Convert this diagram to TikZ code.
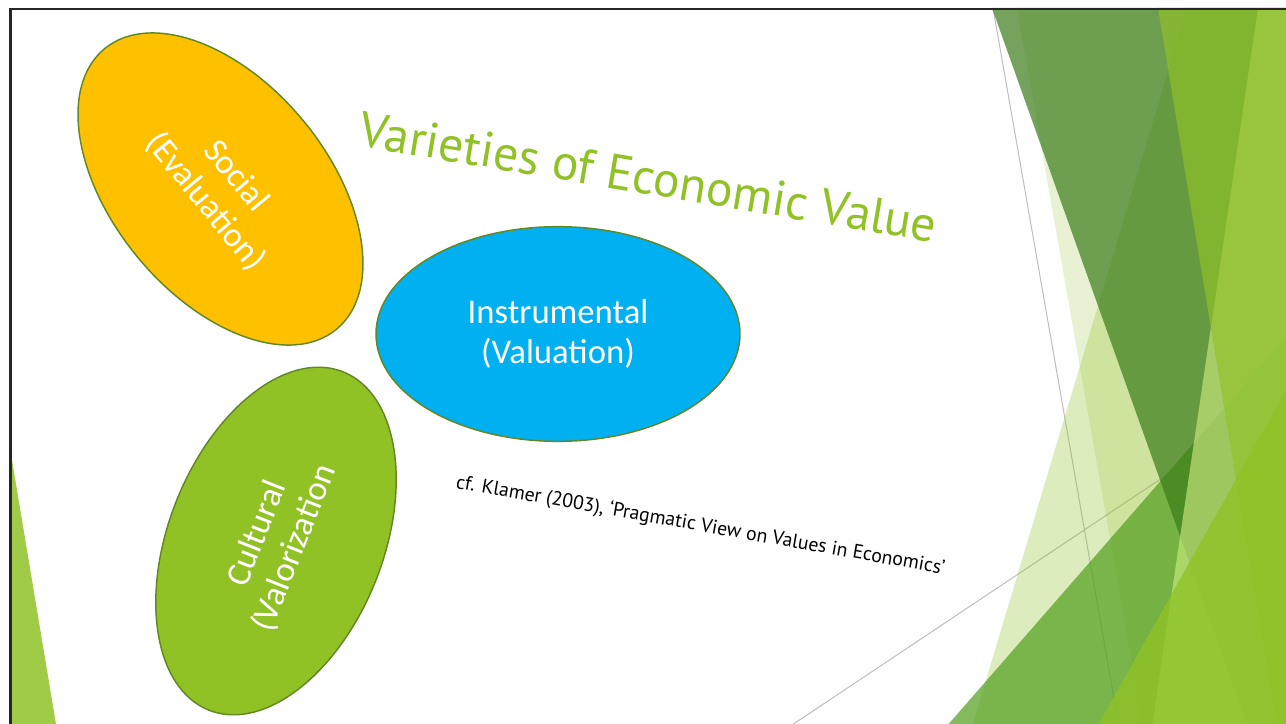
\documentclass[tikz,border=0pt]{standalone}
\usepackage{fontspec}
\setmainfont{PT Sans}
\newfontfamily\labelfont{Carlito}
\usetikzlibrary{shapes.geometric}

\definecolor{facetgreen}{RGB}{144,194,38}
\definecolor{facetdeep}{RGB}{84,160,33}
\definecolor{facetshade}{RGB}{59,124,25}
\definecolor{facetlight}{RGB}{206,236,130}
\definecolor{socialfill}{RGB}{255,192,0}
\definecolor{instrfill}{RGB}{0,176,240}
\definecolor{rimgreen}{RGB}{98,136,36}
\definecolor{hairline}{RGB}{190,190,190}

\tikzset{
    blob/.style={ellipse, draw=rimgreen, line width=1.1pt, minimum width=273pt,
        minimum height=161pt, inner sep=0pt, text=white, align=center,
        font=\labelfont\fontsize{26}{30}\selectfont},
    facet/.style={fill=facetgreen, fill opacity=#1},
}

\begin{document}
\begin{tikzpicture}[x=0.75pt, y=-0.75pt]
    \useasboundingbox (0, 0) rectangle (1286, 724);
    \fill[white] (0, 0) rectangle (1286, 724);

    \begin{scope}
        \clip (0, 0) rectangle (1286, 724);
        \coordinate(g1a) at (993, 8);
        \coordinate(g1b) at (1119, 727);
        \coordinate(g2a) at (789, 727);
        \coordinate(g2b) at (1288, 394);
        \draw[hairline, line width=0.75pt] (g1a)--(g1b);
        \draw[hairline, line width=0.75pt] (g2a)--(g2b);
        % facets on the right
        \fill[facet=.3] (1187, 8)--(1288, 8)--(1288, 727)--(972, 727)--cycle;
        \fill[facet=.2] (1017, 8)--(1288, 8)--(1288, 727)--(1143, 727)--cycle;
        \fill[facetdeep, fill opacity=.72] (946, 727)--(1288, 335)--(1288, 727)--cycle;
        \fill[facetshade, fill opacity=.7] (992, 8)--(1288, 8)--(1288, 727)--(1248, 727)--cycle;
        \fill[facetlight, fill opacity=.63] (1258, 8)--(1288, 8)--(1288, 727)--(1152, 727)--cycle;
        \fill[facet=.65] (1158, 8)--(1288, 8)--(1288, 727)--(1277, 727)--cycle;
        \fill[facet=.8] (1097, 727)--(1288, 387)--(1288, 727)--cycle;
        % corner piece on the left
        \fill[facet=.85] (10, 448)--(56.5, 727)--(10, 727)--cycle;
    \end{scope}

    \draw[black!85, line width=1.7pt] (10.5, 727)--(10.5, 9.3)--(1288, 9.3);

    \node(social) at (220.5, 189) [blob, fill=socialfill, rotate=-50.4] {Social\\(Evaluation)};
    \node(instr) at (558, 334) [blob, fill=instrfill] {Instrumental\\(Valuation)};
    \node(cultural) at (276, 541) [blob, fill=facetgreen, rotate=68.4] {Cultural\\(Valorization};

    \node(heading) at (353, 145) [anchor=base west, rotate=-9.5, text=facetgreen,
        font=\fontsize{37.2}{40}\selectfont] {Varieties of Economic Value};
    \node(source) at (455, 488) [anchor=base west, rotate=-10, inner sep=0pt,
        font=\fontsize{14.8}{16}\selectfont] {cf. Klamer (2003), ‘Pragmatic View on Values in Economics’};
\end{tikzpicture}
\end{document}
